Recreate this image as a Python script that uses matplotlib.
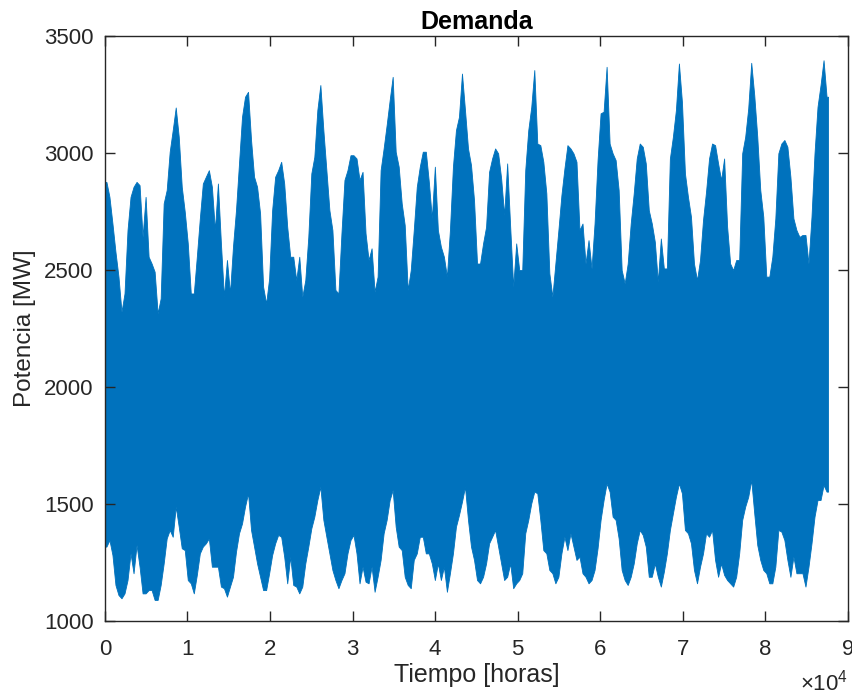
import numpy as np
import matplotlib
matplotlib.use('Agg')
import matplotlib.pyplot as plt

# Hourly demand, read off the chart as an envelope:
# max / min power for each half month (365 h), 24 values per year, 10 years.
upper_mw = [
    [2877, 2813, 2699, 2578, 2472, 2322, 2400, 2671, 2813, 2856, 2877, 2863,
     2642, 2813, 2557, 2528, 2493, 2315, 2379, 2785, 2842, 3006, 3098, 3195],
    [3070, 2856, 2749, 2614, 2400, 2400, 2557, 2721, 2870, 2899, 2927, 2856,
     2671, 2870, 2614, 2386, 2543, 2400, 2600, 2756, 2956, 3155, 3241, 3262],
    [3056, 2899, 2856, 2742, 2429, 2357, 2464, 2756, 2899, 2927, 2963, 2870,
     2685, 2557, 2557, 2457, 2557, 2386, 2457, 2642, 2913, 2984, 3184, 3291],
    [3098, 2927, 2756, 2671, 2415, 2400, 2657, 2885, 2927, 2991, 2991, 2977,
     2885, 2920, 2657, 2543, 2593, 2407, 2472, 2927, 3020, 3120, 3226, 3326],
    [3006, 2942, 2785, 2692, 2415, 2500, 2671, 2856, 2942, 3006, 3006, 2877,
     2721, 2942, 2671, 2600, 2557, 2472, 2671, 2942, 3098, 3155, 3340, 3184],
    [3020, 2949, 2799, 2528, 2528, 2614, 2685, 2920, 2977, 3020, 2999, 2892,
     2735, 2956, 2685, 2429, 2614, 2500, 2500, 2927, 3098, 3198, 3355, 3041],
    [3034, 2963, 2828, 2486, 2386, 2528, 2671, 2820, 2934, 3034, 3020, 2999,
     2963, 2671, 2699, 2528, 2628, 2507, 2699, 2970, 3170, 3177, 3369, 3041],
    [2999, 2970, 2842, 2500, 2443, 2528, 2699, 2828, 2977, 3041, 3027, 2956,
     2756, 2699, 2621, 2450, 2635, 2507, 2507, 2977, 3070, 3184, 3383, 3219],
    [2913, 2813, 2728, 2528, 2457, 2543, 2714, 2835, 2977, 3041, 3034, 2956,
     2885, 2977, 2685, 2528, 2500, 2543, 2543, 2999, 3070, 3191, 3386, 3248],
    [3070, 2842, 2728, 2472, 2472, 2557, 2721, 2999, 3041, 3056, 3027, 2899,
     2721, 2671, 2642, 2650, 2650, 2528, 2728, 2999, 3198, 3291, 3397, 3241],
]
lower_mw = [
    [1318, 1346, 1282, 1154, 1111, 1097, 1118, 1175, 1289, 1204, 1325, 1232,
     1118, 1118, 1132, 1132, 1090, 1090, 1154, 1246, 1353, 1389, 1360, 1489],
    [1403, 1311, 1303, 1175, 1161, 1118, 1197, 1289, 1318, 1332, 1353, 1232,
     1232, 1232, 1147, 1140, 1104, 1147, 1189, 1296, 1375, 1417, 1489, 1546],
    [1389, 1318, 1246, 1189, 1132, 1132, 1204, 1282, 1332, 1368, 1360, 1275,
     1161, 1275, 1154, 1147, 1118, 1147, 1246, 1318, 1396, 1446, 1517, 1574],
    [1432, 1360, 1289, 1218, 1175, 1140, 1175, 1204, 1289, 1346, 1368, 1289,
     1161, 1232, 1168, 1161, 1232, 1125, 1189, 1261, 1375, 1432, 1517, 1560],
    [1403, 1318, 1303, 1189, 1154, 1140, 1261, 1289, 1360, 1360, 1289, 1289,
     1246, 1175, 1246, 1175, 1232, 1125, 1204, 1289, 1403, 1453, 1510, 1574],
    [1432, 1318, 1261, 1175, 1161, 1189, 1246, 1332, 1360, 1389, 1318, 1246,
     1175, 1189, 1246, 1140, 1161, 1175, 1204, 1375, 1432, 1503, 1553, 1546],
    [1432, 1303, 1289, 1218, 1204, 1161, 1189, 1289, 1360, 1303, 1375, 1318,
     1261, 1275, 1204, 1189, 1161, 1175, 1218, 1311, 1432, 1517, 1588, 1553],
    [1446, 1432, 1353, 1218, 1175, 1154, 1189, 1246, 1332, 1389, 1368, 1318,
     1189, 1189, 1246, 1189, 1147, 1211, 1289, 1389, 1460, 1531, 1588, 1546],
    [1389, 1375, 1332, 1218, 1161, 1232, 1289, 1375, 1360, 1389, 1261, 1189,
     1246, 1197, 1175, 1161, 1147, 1189, 1289, 1432, 1489, 1531, 1603, 1460],
    [1325, 1261, 1218, 1204, 1161, 1161, 1232, 1389, 1382, 1346, 1261, 1189,
     1275, 1204, 1204, 1204, 1147, 1232, 1332, 1446, 1517, 1517, 1581, 1553],
]
step_hours = 365
end_hour = 87600

x_ticks = [0, 10000, 20000, 30000, 40000, 50000, 60000, 70000, 80000, 90000]
x_ticklabels = ['0', '1', '2', '3', '4', '5', '6', '7', '8', '9']
y_ticks = [1000, 1500, 2000, 2500, 3000, 3500]

plt.rcParams['font.family'] = ['Liberation Sans', 'DejaVu Sans']
plt.rcParams['mathtext.fontset'] = 'custom'
plt.rcParams['mathtext.rm'] = 'Liberation Sans'
text_col = '#262626'
line_col = '#0072BD'

up = np.concatenate(upper_mw).astype(float)
lo = np.concatenate(lower_mw).astype(float)
# value of each half month drawn at its middle, series runs from 0 to end_hour
t = (np.arange(len(up)) + 0.5) * step_hours
t = np.concatenate([[0], t, [end_hour]])
up = np.concatenate([[up[0]], up, [up[-1]]])
lo = np.concatenate([[lo[0]], lo, [lo[-1]]])

fig = plt.figure(figsize=(8.53, 6.95), dpi=100)
ax = fig.add_axes([0.123, 0.1065, 0.871, 0.8415])

ax.fill_between(t, lo, up, color=line_col, linewidth=0.6, edgecolor=line_col)

ax.set_xlim(0, 90000)
ax.set_ylim(1000, 3500)
ax.set_xticks(x_ticks)
ax.set_xticklabels(x_ticklabels)
ax.set_yticks(y_ticks)

ax.tick_params(direction='in', top=True, right=True, length=7, width=1,
               labelsize=16, colors=text_col, pad=8)
ax.tick_params(axis='x', pad=13)
for s in ax.spines.values():
    s.set_color(text_col)
    s.set_linewidth(1)

# MATLAB style exponent under the right end of the x axis
fig.text(0.994, 0.006, '\u00d710$^{4}$', ha='right', va='baseline',
         fontsize=16, color=text_col)

ax.set_title('Demanda', fontsize=18, fontweight='bold', color='black', pad=5)
ax.set_xlabel('Tiempo [horas]', fontsize=18, color=text_col, labelpad=2)
ax.set_ylabel('Potencia [MW]', fontsize=17.5, color=text_col, labelpad=6)

fig.savefig('out.png', dpi=100)
